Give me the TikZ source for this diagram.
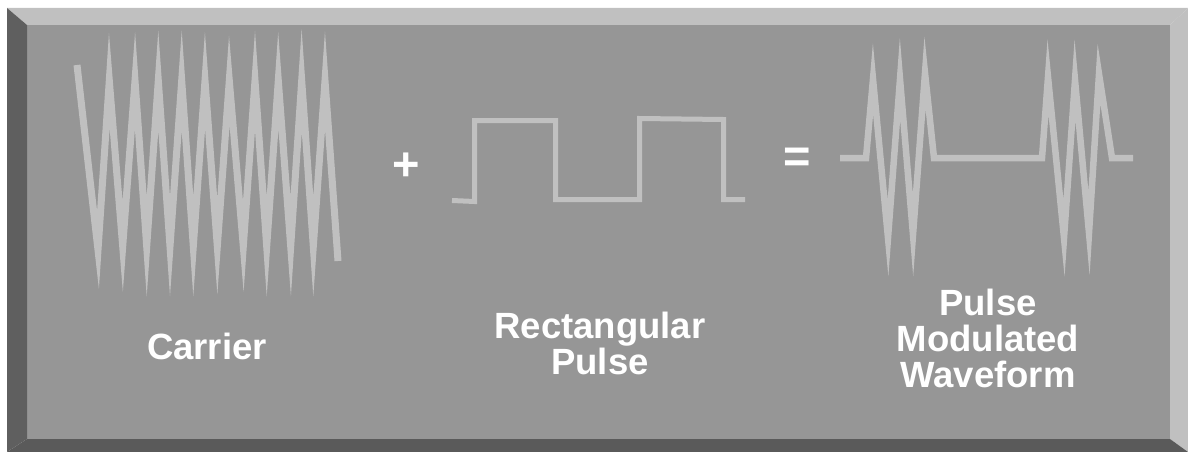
\documentclass[tikz,border=0pt]{standalone}
\usepackage{fontspec}
\setsansfont{Liberation Sans}
\definecolor{face}{HTML}{969696}
\definecolor{lightbevel}{HTML}{C0C0C0}
\definecolor{darkbevel}{HTML}{5A5A5A}
\definecolor{leftbevel}{HTML}{5F5F5F}
\definecolor{wavegray}{HTML}{C0C0C0}
\begin{document}
\begin{tikzpicture}[x=1pt,y=-1pt,
  wave/.style={draw=wavegray, line width=6.5pt, line join=miter, miter limit=40, line cap=butt},
  carrierline/.style={wave, line width=7pt},
  pulseline/.style={wave, line width=5pt},
  lbl/.style={text=white, font=\sffamily\bfseries\fontsize{36.5}{36.5}\selectfont, inner sep=0pt, anchor=base},
  op/.style={text=white, font=\sffamily\bfseries\fontsize{47}{47}\selectfont, inner sep=0pt, anchor=base}]
\useasboundingbox (0,0) rectangle (1188,452);
\fill[white] (0,0) rectangle (1188,452);
% bevelled panel
\fill[face] (27,25) rectangle (1170,439);
\fill[lightbevel] (7,8) -- (1188,8) -- (1170,25) -- (27,25) -- cycle;
\fill[lightbevel] (1188,8) -- (1188,452) -- (1170,439) -- (1170,25) -- cycle;
\fill[darkbevel] (7,452) -- (1188,452) -- (1170,439) -- (27,439) -- cycle;
\fill[leftbevel] (7,8) -- (27,25) -- (27,439) -- (7,452) -- cycle;
% carrier
\draw[carrierline] (77,65) -- (98,250) -- (109.3,80.5) -- (122.7,246.5) -- (135,80.5) -- (146.7,246.5)
  -- (158.3,80.5) -- (170,246.5) -- (181.7,80.5) -- (193.3,246.5) -- (205,80.5) -- (217.3,246.5)
  -- (229.3,80.5) -- (243.3,246.5) -- (255,80.5) -- (266.7,246.5) -- (278.3,80.5) -- (290.7,246.5)
  -- (301.7,80.5) -- (313.3,246.5) -- (325,80.5) -- (338,261);
% rectangular pulse
\draw[pulseline] (452,200.5) -- (474.5,201.5) -- (474.5,120.5) -- (555.5,120.5) -- (555.5,199.5)
  -- (639.5,199.5) -- (639.5,118.5) -- (723.5,119.5) -- (723.5,199.5) -- (745,199.5);
% pulse modulated waveform
\draw[wave] (840,158) -- (866,158) -- (873,79) -- (888,238) -- (900,79) -- (913,235)
  -- (925,73) -- (934,158) -- (1042,158) -- (1048,77) -- (1064,238) -- (1075,80)
  -- (1089,233) -- (1099,74) -- (1112,158) -- (1133,158);
% operators
\node[op] (plus) at (406.5,180.5) {+};
\node[op] (equals) at (797,172) {=};
% labels
\node[lbl] (carrier) at (207,359) {Carrier};
\node[lbl] (rectA) at (600,338) {Rectangular};
\node[lbl] (rectB) at (600,374) {Pulse};
\node[lbl] (pmwA) at (988,315) {Pulse};
\node[lbl] (pmwB) at (988,351) {Modulated};
\node[lbl] (pmwC) at (988,387) {Waveform};
\end{tikzpicture}
\end{document}
